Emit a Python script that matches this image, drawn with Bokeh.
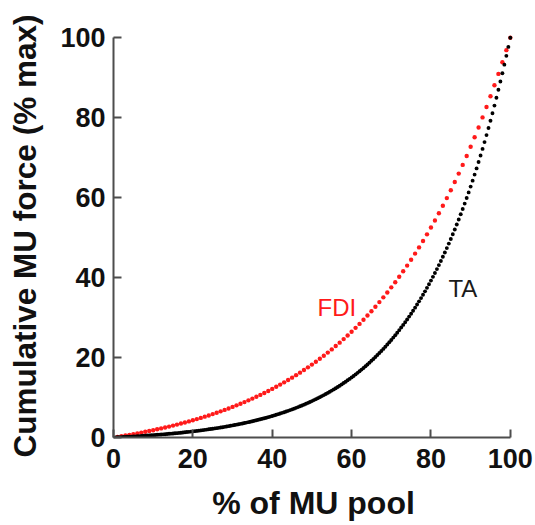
from bokeh.plotting import figure
from bokeh.models import ColumnDataSource, FixedTicker, Range1d
from bokeh.core.properties import value
from bokeh.embed import file_html
from bokeh.resources import INLINE

# FDI: cumulative MU force (% max) for each motor unit, x = % of MU pool (1..100)
fdi_pool = list(range(1, 101))
fdi_force = [
    0.16, 0.32, 0.49, 0.67, 0.85, 1.03, 1.22, 1.42, 1.62, 1.83,
    2.05, 2.27, 2.50, 2.73, 2.98, 3.23, 3.49, 3.75, 4.03, 4.31,
    4.60, 4.90, 5.21, 5.52, 5.85, 6.19, 6.54, 6.90, 7.27, 7.65,
    8.04, 8.44, 8.86, 9.29, 9.73, 10.19, 10.66, 11.14, 11.64, 12.16,
    12.69, 13.23, 13.79, 14.37, 14.97, 15.59, 16.22, 16.88, 17.55, 18.24,
    18.96, 19.69, 20.45, 21.24, 22.04, 22.87, 23.73, 24.61, 25.52, 26.46,
    27.42, 28.42, 29.44, 30.50, 31.59, 32.71, 33.87, 35.06, 36.28, 37.55,
    38.85, 40.19, 41.58, 43.00, 44.47, 45.99, 47.55, 49.15, 50.81, 52.52,
    54.28, 56.09, 57.96, 59.88, 61.86, 63.91, 66.01, 68.18, 70.42, 72.72,
    75.10, 77.54, 80.07, 82.66, 85.34, 88.10, 90.94, 93.87, 96.89, 100.0,
]

# TA: cumulative MU force (% max), x = % of MU pool (0.5..100 in 0.5 steps)
ta_pool = [i / 2 for i in range(1, 201)]
ta_force = [
    0.02, 0.05, 0.07, 0.10, 0.12, 0.15, 0.18, 0.21, 0.23, 0.26,
    0.29, 0.32, 0.35, 0.39, 0.42, 0.45, 0.49, 0.52, 0.56, 0.59,
    0.63, 0.67, 0.71, 0.75, 0.79, 0.83, 0.87, 0.92, 0.96, 1.01,
    1.06, 1.09, 1.15, 1.20, 1.26, 1.31, 1.36, 1.42, 1.47, 1.53,
    1.59, 1.65, 1.71, 1.78, 1.84, 1.91, 1.98, 2.05, 2.12, 2.19,
    2.27, 2.34, 2.42, 2.50, 2.58, 2.67, 2.75, 2.84, 2.93, 3.02,
    3.11, 3.21, 3.31, 3.41, 3.51, 3.62, 3.73, 3.84, 3.95, 4.06,
    4.18, 4.30, 4.43, 4.55, 4.68, 4.82, 4.95, 5.09, 5.23, 5.38,
    5.53, 5.68, 5.84, 5.99, 6.16, 6.32, 6.49, 6.67, 6.85, 7.03,
    7.22, 7.41, 7.61, 7.81, 8.01, 8.22, 8.44, 8.66, 8.88, 9.11,
    9.35, 9.59, 9.84, 10.09, 10.35, 10.61, 10.88, 11.16, 11.44, 11.73,
    12.03, 12.33, 12.64, 12.96, 13.28, 13.62, 13.96, 14.31, 14.66, 15.03,
    15.40, 15.78, 16.17, 16.57, 16.98, 17.40, 17.83, 18.27, 18.72, 19.18,
    19.65, 20.13, 20.62, 21.12, 21.64, 22.16, 22.70, 23.26, 23.82, 24.40,
    24.99, 25.59, 26.21, 26.85, 27.50, 28.16, 28.84, 29.53, 30.24, 30.97,
    31.71, 32.48, 33.25, 34.05, 34.87, 35.70, 36.56, 37.43, 38.33, 39.24,
    40.18, 41.14, 42.12, 43.12, 44.15, 45.20, 46.27, 47.37, 48.50, 49.65,
    50.83, 52.04, 53.27, 54.53, 55.83, 57.15, 58.50, 59.89, 61.30, 62.75,
    64.24, 65.76, 67.31, 68.90, 70.53, 72.19, 73.89, 75.64, 77.42, 79.24,
    81.11, 83.02, 84.98, 86.98, 89.03, 91.12, 93.26, 95.46, 97.70, 100.0,
]

ticks = [0, 20, 40, 60, 80, 100]
series_names = ["FDI", "TA"]
label_x = [51.4, 84.4]
label_y = [32.4, 37.2]

p = figure(width=535, height=525, output_backend="svg", toolbar_location=None,
           x_range=Range1d(0, 100.8), y_range=Range1d(0, 100.8),
           min_border_left=113, min_border_right=22, min_border_top=34,
           min_border_bottom=88)
p.outline_line_color = None
p.grid.visible = False
p.background_fill_color = "white"
p.border_fill_color = "white"

p.scatter(fdi_pool, fdi_force, size=4.4, fill_color="#ff1a1a", line_color=None)
p.scatter(ta_pool, ta_force, size=3.9, fill_color="#000000", line_color=None)

src = ColumnDataSource(dict(x=label_x, y=label_y, t=series_names,
                            c=["#ff1a1a", "#1a1a1a"]))
p.text(x="x", y="y", text="t", text_color="c", source=src,
       text_font=value("Liberation Sans"), text_font_size="24px",
       text_baseline="alphabetic", text_align="left")

for ax in (p.xaxis[0], p.yaxis[0]):
    ax.ticker = FixedTicker(ticks=ticks)
    ax.bounds = (0, 100)
    ax.axis_line_color = "#4d4d4d"
    ax.axis_line_width = 2
    ax.major_tick_line_color = "#4d4d4d"
    ax.major_tick_line_width = 2
    ax.major_tick_in = 8
    ax.major_tick_out = 0
    ax.minor_tick_line_color = None
    ax.major_label_text_font = "Liberation Sans"
    ax.major_label_text_font_style = "bold"
    ax.major_label_text_font_size = "27px"
    ax.major_label_text_color = "#111111"
    ax.axis_label_text_font = "Liberation Sans"
    ax.axis_label_text_font_style = "bold"
    ax.axis_label_text_color = "#111111"

p.xaxis.axis_label = "% of MU pool"
p.yaxis.axis_label = "Cumulative MU force (% max)"
p.xaxis.axis_label_text_font_size = "32px"
p.yaxis.axis_label_text_font_size = "31.5px"
p.xaxis.major_label_standoff = 11
p.yaxis.major_label_standoff = 8
p.xaxis.axis_label_standoff = 14
p.yaxis.axis_label_standoff = 14

open("out.html", "w").write(file_html(p, INLINE))
